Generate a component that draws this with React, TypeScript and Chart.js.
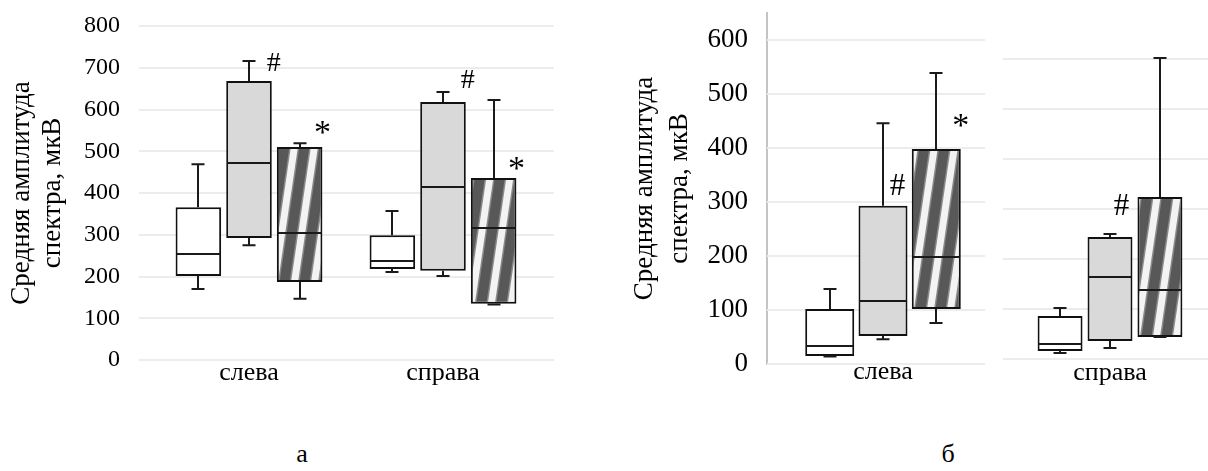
import React, { useEffect, useRef } from 'react';
import { Chart, registerables } from 'chart.js';

Chart.register(...registerables);

const FONT = "'Liberation Serif', 'Times New Roman', Times, serif";

// ---------- text ----------
const seriesNames = ['Группа 1', 'Группа 2', 'Группа 3'];
const yTitle = ['Средняя амплитуда', 'спектра, мкВ'];
const panelLetters = ['а', 'б'];

// ---------- panel а ----------
const catsA = ['слева', 'справа'];
const ticksA = [0, 100, 200, 300, 400, 500, 600, 700, 800];
const aWhiteMin = [170, 211];
const aWhiteQ1 = [201, 218];
const aWhiteMed = [254, 237];
const aWhiteQ3 = [366, 299];
const aWhiteMax = [469, 357];
const aGrayMin = [275, 201];
const aGrayQ1 = [292, 214];
const aGrayMed = [472, 415];
const aGrayQ3 = [668, 618];
const aGrayMax = [716, 642];
const aHatchMin = [147, 133];
const aHatchQ1 = [187, 135];
const aHatchMed = [304, 316];
const aHatchQ3 = [510, 436];
const aHatchMax = [519, 623];
// significance marks: category index, series index, symbol, level (value units)
const aMarkCat = [0, 0, 1, 1];
const aMarkSeries = [1, 2, 1, 2];
const aMarkSym = ['#', '*', '#', '*'];
const aMarkLevel = [711, 548, 668, 462];

// ---------- panel б, left part ----------
const catsB1 = ['слева'];
const ticksB = [0, 100, 200, 300, 400, 500, 600];
const b1WhiteMin = [14];
const b1WhiteQ1 = [15];
const b1WhiteMed = [33];
const b1WhiteQ3 = [102];
const b1WhiteMax = [139];
const b1GrayMin = [46];
const b1GrayQ1 = [52];
const b1GrayMed = [117];
const b1GrayQ3 = [293];
const b1GrayMax = [446];
const b1HatchMin = [76];
const b1HatchQ1 = [102];
const b1HatchMed = [198];
const b1HatchQ3 = [398];
const b1HatchMax = [539];
const b1MarkCat = [0, 0];
const b1MarkSeries = [1, 2];
const b1MarkSym = ['#', '*'];
const b1MarkLevel = [328, 444];

// ---------- panel б, right part ----------
const catsB2 = ['справа'];
const b2WhiteMin = [12];
const b2WhiteQ1 = [16];
const b2WhiteMed = [30];
const b2WhiteQ3 = [86];
const b2WhiteMax = [102];
const b2GrayMin = [22];
const b2GrayQ1 = [36];
const b2GrayMed = [164];
const b2GrayQ3 = [244];
const b2GrayMax = [250];
const b2HatchMin = [44];
const b2HatchQ1 = [44];
const b2HatchMed = [138];
const b2HatchQ3 = [324];
const b2HatchMax = [602];
const b2MarkCat = [0];
const b2MarkSeries = [1];
const b2MarkSym = ['#'];
const b2MarkLevel = [304];

type BoxSet = { min: number[]; q1: number[]; med: number[]; q3: number[]; max: number[] };
type Marks = { cat: number[]; series: number[]; sym: string[]; level: number[] };

function makeHatch(): CanvasPattern | string {
  const w = 20;
  const h = 136;
  const c = document.createElement('canvas');
  c.width = w;
  c.height = h;
  const g = c.getContext('2d');
  if (!g) return '#888888';
  g.fillStyle = '#f3f3f3';
  g.fillRect(0, 0, w, h);
  const band = (sw: number, color: string) => {
    g.fillStyle = color;
    for (let k = -2; k <= 1; k++) {
      const o = k * w + (12 - sw) / 2;
      g.beginPath();
      g.moveTo(o, h);
      g.lineTo(o + sw, h);
      g.lineTo(o + sw + w, 0);
      g.lineTo(o + w, 0);
      g.closePath();
      g.fill();
    }
  };
  band(13, '#8a8a8a');
  band(10, '#585858');
  return g.createPattern(c, 'repeat') ?? '#888888';
}

function gridPlugin(extLeft: number, extRight: number) {
  return {
    id: 'extGrid',
    beforeDatasetsDraw(chart: any) {
      const { ctx, chartArea } = chart;
      const y = chart.scales.y;
      ctx.save();
      ctx.strokeStyle = '#ececec';
      ctx.lineWidth = 2;
      y.ticks.forEach((t: any) => {
        const py = Math.round(y.getPixelForValue(t.value));
        ctx.beginPath();
        ctx.moveTo(chartArea.left - extLeft, py);
        ctx.lineTo(chartArea.right + extRight, py);
        ctx.stroke();
      });
      ctx.restore();
    },
  };
}

function boxPlugin(sets: BoxSet[]) {
  return {
    id: 'boxWhiskers',
    afterDatasetsDraw(chart: any) {
      const { ctx } = chart;
      const y = chart.scales.y;
      const cap = 13;
      ctx.save();
      ctx.strokeStyle = '#1a1a1a';
      ctx.lineWidth = 2;
      sets.forEach((s, di) => {
        const meta = chart.getDatasetMeta(di);
        meta.data.forEach((bar: any, i: number) => {
          const x = Math.round(bar.x);
          const half = bar.width / 2;
          const yq1 = y.getPixelForValue(s.q1[i]);
          const yq3 = y.getPixelForValue(s.q3[i]);
          const ymin = y.getPixelForValue(s.min[i]);
          const ymax = y.getPixelForValue(s.max[i]);
          const ymed = Math.round(y.getPixelForValue(s.med[i]));
          ctx.beginPath();
          ctx.moveTo(x, yq3);
          ctx.lineTo(x, ymax);
          ctx.moveTo(x - cap / 2, ymax);
          ctx.lineTo(x + cap / 2, ymax);
          ctx.moveTo(x, yq1);
          ctx.lineTo(x, ymin);
          ctx.moveTo(x - cap / 2, ymin);
          ctx.lineTo(x + cap / 2, ymin);
          ctx.moveTo(bar.x - half + 1, ymed);
          ctx.lineTo(bar.x + half - 1, ymed);
          ctx.stroke();
        });
      });
      ctx.restore();
    },
  };
}

function markPlugin(m: Marks, hashSize: number, starSize: number, hashDx: number) {
  return {
    id: 'sigMarks',
    afterDatasetsDraw(chart: any) {
      const { ctx } = chart;
      const y = chart.scales.y;
      ctx.save();
      ctx.fillStyle = '#000';
      ctx.textAlign = 'center';
      ctx.textBaseline = 'middle';
      m.cat.forEach((ci, k) => {
        const bar: any = chart.getDatasetMeta(m.series[k]).data[ci];
        const sym = m.sym[k];
        const isHash = sym === '#';
        ctx.font = `${isHash ? hashSize : starSize}px ${FONT}`;
        const dx = isHash ? hashDx : 0;
        ctx.fillText(sym, bar.x + bar.width / 2 + dx, y.getPixelForValue(m.level[k]) + (isHash ? 0 : 3));
      });
      ctx.restore();
    },
  };
}

type Cfg = {
  labels: string[];
  sets: BoxSet[];
  fills: (string | CanvasPattern)[];
  catPct: number;
  barPct: number;
  yMax: number;
  ticks: number[];
  yWidth: number;
  padLeft: number;
  padRight: number;
  padTop: number;
  xHeight: number;
  xPad: number;
  showY: boolean;
  axisLine: boolean;
  tickSize: number;
  tickGap: number;
  titleLH: number;
  titlePad: number;
  gridL: number;
  gridR: number;
  marks: Marks;
  hashSize: number;
  hashDx: number;
};

function makeConfig(c: Cfg): any {
  return {
    type: 'bar',
    data: {
      labels: c.labels,
      datasets: c.sets.map((s, k) => ({
        label: seriesNames[k],
        data: s.q1.map((v, i) => [v, s.q3[i]]),
        backgroundColor: c.fills[k],
        borderColor: '#111111',
        borderWidth: 2,
        borderSkipped: false,
        categoryPercentage: c.catPct,
        barPercentage: c.barPct,
      })),
    },
    options: {
      animation: false,
      responsive: false,
      maintainAspectRatio: false,
      events: [],
      layout: { padding: { left: c.padLeft, right: c.padRight, top: c.padTop, bottom: 0 } },
      plugins: { legend: { display: false }, tooltip: { enabled: false } },
      scales: {
        x: {
          type: 'category',
          grid: { display: false, drawTicks: false },
          border: { display: false },
          ticks: {
            color: '#000',
            font: { family: FONT, size: 26, lineHeight: 1 },
            padding: c.xPad,
            maxRotation: 0,
            autoSkip: false,
          },
          afterFit: (s: any) => {
            s.height = c.xHeight;
          },
        },
        y: {
          type: 'linear',
          min: 0,
          max: c.yMax,
          grid: { display: false, drawTicks: true, tickLength: Math.max(c.tickGap - 2, 0) },
          border: { display: c.axisLine, color: '#c4c4c4', width: 2 },
          ticks: {
            display: c.showY,
            color: '#000',
            font: { family: FONT, size: c.tickSize, lineHeight: 0.8 },
            padding: 2,
            includeBounds: false,
          },
          afterBuildTicks: (s: any) => {
            s.ticks = c.ticks.map((v) => ({ value: v }));
          },
          afterFit: (s: any) => {
            s.width = c.yWidth;
          },
          title: {
            display: c.showY,
            text: yTitle,
            color: '#000',
            font: { family: FONT, size: 27, lineHeight: c.titleLH },
            padding: { top: c.titlePad, bottom: 0 },
          },
        },
      },
    },
    plugins: [gridPlugin(c.gridL, c.gridR), boxPlugin(c.sets), markPlugin(c.marks, c.hashSize, 34, c.hashDx)],
  };
}

export default function App() {
  const refA = useRef<HTMLCanvasElement>(null);
  const refB1 = useRef<HTMLCanvasElement>(null);
  const refB2 = useRef<HTMLCanvasElement>(null);

  useEffect(() => {
    document.body.style.margin = '0';
    const hatch = makeHatch();
    const fills = ['#ffffff', '#d9d9d9', hatch];

    const setsA: BoxSet[] = [
      { min: aWhiteMin, q1: aWhiteQ1, med: aWhiteMed, q3: aWhiteQ3, max: aWhiteMax },
      { min: aGrayMin, q1: aGrayQ1, med: aGrayMed, q3: aGrayQ3, max: aGrayMax },
      { min: aHatchMin, q1: aHatchQ1, med: aHatchMed, q3: aHatchQ3, max: aHatchMax },
    ];
    const setsB1: BoxSet[] = [
      { min: b1WhiteMin, q1: b1WhiteQ1, med: b1WhiteMed, q3: b1WhiteQ3, max: b1WhiteMax },
      { min: b1GrayMin, q1: b1GrayQ1, med: b1GrayMed, q3: b1GrayQ3, max: b1GrayMax },
      { min: b1HatchMin, q1: b1HatchQ1, med: b1HatchMed, q3: b1HatchQ3, max: b1HatchMax },
    ];
    const setsB2: BoxSet[] = [
      { min: b2WhiteMin, q1: b2WhiteQ1, med: b2WhiteMed, q3: b2WhiteQ3, max: b2WhiteMax },
      { min: b2GrayMin, q1: b2GrayQ1, med: b2GrayMed, q3: b2GrayQ3, max: b2GrayMax },
      { min: b2HatchMin, q1: b2HatchQ1, med: b2HatchMed, q3: b2HatchQ3, max: b2HatchMax },
    ];

    const charts: Chart[] = [];
    if (refA.current) {
      charts.push(
        new Chart(
          refA.current,
          makeConfig({
            labels: catsA,
            sets: setsA,
            fills,
            catPct: 0.783,
            barPct: 0.9,
            yMax: 800,
            ticks: ticksA,
            yWidth: 152,
            padLeft: 0,
            padRight: 40,
            padTop: 26,
            xHeight: 40,
            xPad: 0,
            showY: true,
            axisLine: false,
            tickSize: 24,
            tickGap: 32,
            titleLH: 1.15,
            titlePad: 6.5,
            gridL: 13,
            gridR: 14,
            marks: { cat: aMarkCat, series: aMarkSeries, sym: aMarkSym, level: aMarkLevel },
            hashSize: 28,
            hashDx: 2,
          })
        )
      );
    }
    if (refB1.current) {
      charts.push(
        new Chart(
          refB1.current,
          makeConfig({
            labels: catsB1,
            sets: setsB1,
            fills,
            catPct: 0.689,
            barPct: 0.92,
            yMax: 650,
            ticks: ticksB,
            yWidth: 167,
            padLeft: 0,
            padRight: 1,
            padTop: 13,
            xHeight: 36,
            xPad: -5,
            showY: true,
            axisLine: true,
            tickSize: 27,
            tickGap: 19,
            titleLH: 1.3,
            titlePad: 27.5,
            gridL: 0,
            gridR: -14,
            marks: { cat: b1MarkCat, series: b1MarkSeries, sym: b1MarkSym, level: b1MarkLevel },
            hashSize: 31,
            hashDx: -10,
          })
        )
      );
    }
    if (refB2.current) {
      charts.push(
        new Chart(
          refB2.current,
          makeConfig({
            labels: catsB2,
            sets: setsB2,
            fills,
            catPct: 0.7,
            barPct: 0.9,
            yMax: 600,
            ticks: ticksB,
            yWidth: 0,
            padLeft: 13,
            padRight: 13,
            padTop: 59,
            xHeight: 41,
            xPad: 1,
            showY: false,
            axisLine: false,
            tickSize: 27,
            tickGap: 0,
            titleLH: 1.3,
            titlePad: 0,
            gridL: 0,
            gridR: 0,
            marks: { cat: b2MarkCat, series: b2MarkSeries, sym: b2MarkSym, level: b2MarkLevel },
            hashSize: 31,
            hashDx: -11,
          })
        )
      );
    }
    return () => charts.forEach((ch) => ch.destroy());
  }, []);

  const letterStyle: React.CSSProperties = {
    position: 'absolute',
    top: 441,
    transform: 'translateX(-50%)',
    fontSize: 26,
    lineHeight: '26px',
    color: '#000',
    fontFamily: FONT,
  };

  return (
    <div
      style={{
        position: 'relative',
        width: 1208,
        height: 471,
        overflow: 'hidden',
        background: '#ffffff',
      }}
    >
      <canvas ref={refA} width={580} height={400} style={{ position: 'absolute', left: 0, top: 0, width: 580, height: 400 }} />
      <canvas ref={refB1} width={400} height={400} style={{ position: 'absolute', left: 600, top: 0, width: 400, height: 400 }} />
      <canvas ref={refB2} width={240} height={400} style={{ position: 'absolute', left: 990, top: 0, width: 240, height: 400 }} />
      <div style={{ ...letterStyle, left: 302 }}>{panelLetters[0]}</div>
      <div style={{ ...letterStyle, left: 948 }}>{panelLetters[1]}</div>
    </div>
  );
}
